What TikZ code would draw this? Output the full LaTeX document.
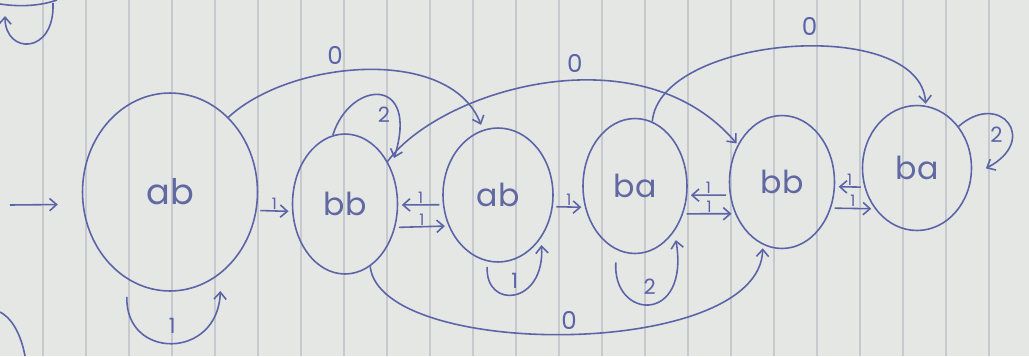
\documentclass[tikz,border=0pt]{standalone}
\usepackage{fontspec}
\setmainfont{Poppins}
\usepackage{tikz}
\usetikzlibrary{arrows.meta, shapes.geometric}
\definecolor{ink}{RGB}{92,100,168}
\definecolor{paper}{RGB}{229,231,228}
\definecolor{ruling}{RGB}{198,201,205}
\tikzset{
    state/.style={ellipse, draw=ink, line width=0.9pt, inner sep=0pt, text=ink!85!gray, font=\fontsize{18}{18}\selectfont},
    edge/.style={draw=ink, line width=0.9pt, -{Straight Barb[length=4pt, width=7pt]}},
    stub/.style={edge, shorten <=2pt, shorten >=2pt},
    zero/.style={text=ink, font=\fontsize{14}{14}\selectfont, inner sep=1pt},
    looplbl/.style={text=ink, font=\fontsize{12}{12}\selectfont, inner sep=1pt},
    tinylbl/.style={text=ink, font=\fontsize{9}{9}\selectfont, inner sep=0.5pt},
    ruling/.style={draw=ruling, line width=0.6pt}
}
\begin{document}
\begin{tikzpicture}[x=0.02cm, y=-0.02cm]
    \fill[paper] (0,0) rectangle (1029,356);
    \useasboundingbox (0,0) rectangle (1029,356);
    \foreach \x in {43,86,...,989} \draw[ruling] (\x,0) -- (\x,356); % ruled paper

    % states
    \node[state, minimum width=3.5cm, minimum height=3.96cm, font=\fontsize{20}{20}\selectfont] (ab1) at (170,192) {ab};
    \node[state, minimum width=2.1cm, minimum height=2.8cm] (bb1) at (345,204) {bb};
    \node[state, minimum width=2.2cm, minimum height=2.68cm] (ab2) at (498,195) {ab};
    \node[state, minimum width=2.08cm, minimum height=2.7cm] (ba1) at (635,186) {ba};
    \node[state, minimum width=2.1cm, minimum height=2.66cm] (bb2) at (782,182) {bb};
    \node[state, minimum width=2.18cm, minimum height=2.5cm] (ba2) at (917,168) {ba};

    % start
    \coordinate (start) at (10,205);
    \draw[edge, shorten >=14pt] (start) -- (ab1.188);

    % short arrows between neighbours
    \draw[stub] (ab1.-12) -- (bb1.-172) node[midway, above, tinylbl] {1};
    \draw[stub] (ab2.-170) -- (bb1.-1) node[midway, above, tinylbl] {1};
    \draw[stub] (bb1.-25) -- (ab2.-148) node[midway, above, tinylbl] {1};
    \draw[stub] (ab2.-12) -- (ba1.-157) node[midway, above, tinylbl] {1};
    \draw[stub] (bb2.-166) -- (ba1.-10) node[midway, above, tinylbl] {1};
    \draw[stub] (ba1.-30) -- (bb2.-146) node[midway, above, tinylbl] {1};
    \draw[stub] (ba2.-160) -- (bb2.-5) node[midway, above, tinylbl] {1};
    \draw[stub] (bb2.-28) -- (ba2.-136) node[midway, above, tinylbl] {1};

    % loops
    \draw[edge, shorten <=10pt, shorten >=10pt] (ab1.-116) .. controls (125,360) and (218,360) .. (ab1.-58) node[pos=0.5, above=2pt, looplbl] {1};
    \draw[edge, shorten >=6pt] (bb1.100) .. controls (350,80) and (420,75) .. (bb1.38) node[pos=0.55, below=4pt, looplbl] {2};
    \draw[edge, shorten <=3pt, shorten >=4pt] (ab2.-99) .. controls (485,310) and (545,305) .. (ab2.-45) node[pos=0.5, above=1pt, looplbl] {1};
    \draw[edge, shorten <=7pt, shorten >=5pt] (ba1.-106) .. controls (612,320) and (690,325) .. (ba1.-49) node[pos=0.5, above=3pt, looplbl] {2};
    \draw[edge, shorten >=9pt] (ba2.45) .. controls (1000,90) and (1040,140) .. (ba2.-8) node[pos=0.62, left=2pt, looplbl] {2};

    % long 0-arcs
    \draw[edge, shorten >=3pt] (ab1.52) .. controls (290,60) and (450,45) .. (ab2.103) node[pos=0.4, above=3pt, zero] {0};
    \draw[edge, shorten >=1pt] (bb1.45) .. controls (440,90) and (640,30) .. (bb2.140) node[pos=0.57, above=3pt, zero] {0};
    \draw[edge, shorten >=1pt] (ba1.75) .. controls (660,35) and (920,15) .. (ba2.82) node[pos=0.55, above=5pt, zero] {0};
    \draw[edge, shorten >=2pt] (bb1.-68) .. controls (380,360) and (760,360) .. (bb2.-107) node[pos=0.5, above=1pt, zero] {0};

    % bits of other drawings at the page edge
    \draw[ink, line width=0.9pt] (0,4) .. controls (20,7) and (40,6) .. (57,0);
    \draw[edge] (53,3) .. controls (55,55) and (5,55) .. (5,16);
    \draw[ink, line width=0.9pt] (0,312) .. controls (15,320) and (22,340) .. (25,356);
\end{tikzpicture}
\end{document}
